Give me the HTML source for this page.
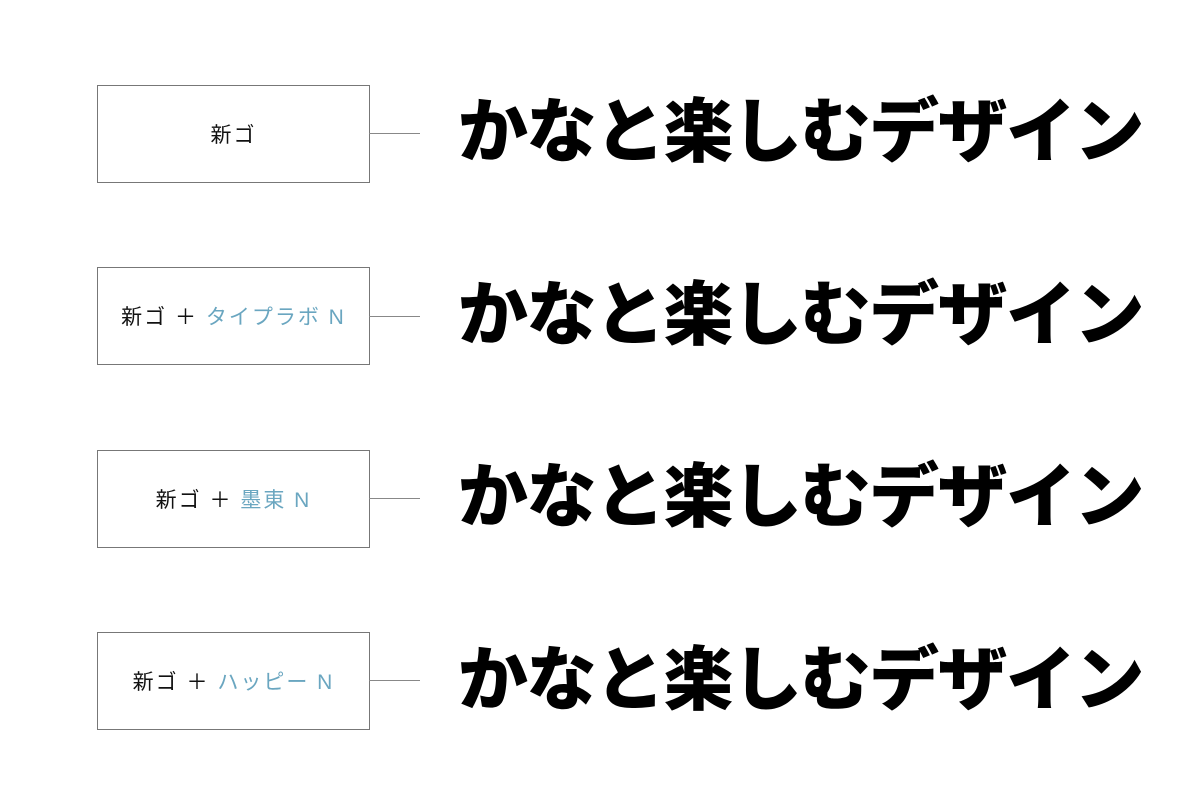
<!DOCTYPE html>
<html><head><meta charset="utf-8"><style>
body{margin:0;width:1200px;height:799px;background:#fff;position:relative;overflow:hidden;font-family:"Liberation Sans","Noto Sans CJK JP",sans-serif}
.box{position:absolute;left:97px;width:271px;height:96px;border:1px solid #777;display:flex;align-items:center;justify-content:center;font-size:21px;color:#111;letter-spacing:2px}
.box span{color:#6aa6c0}
.ln{position:absolute;left:369px;width:51px;height:1px;background:#888}
.big{position:absolute;left:458px;font-size:70px;font-weight:900;line-height:1;letter-spacing:-1.5px;white-space:nowrap;font-family:"Noto Sans CJK JP",sans-serif;color:#000}
</style></head><body>
<div class="box" style="top:85px">新ゴ</div><div class="ln" style="top:133px"></div>
<div class="big" style="top:92px">かなと楽しむデザイン</div>
<div class="box" style="top:267px">新ゴ ＋ <span>&nbsp;タイプラボ N</span></div><div class="ln" style="top:316px"></div>
<div class="big" style="top:275px">かなと楽しむデザイン</div>
<div class="box" style="top:450px">新ゴ ＋ <span>&nbsp;墨東 N</span></div><div class="ln" style="top:498px"></div>
<div class="big" style="top:457px">かなと楽しむデザイン</div>
<div class="box" style="top:632px">新ゴ ＋ <span>&nbsp;ハッピー N</span></div><div class="ln" style="top:680px"></div>
<div class="big" style="top:640px">かなと楽しむデザイン</div>
</body></html>
